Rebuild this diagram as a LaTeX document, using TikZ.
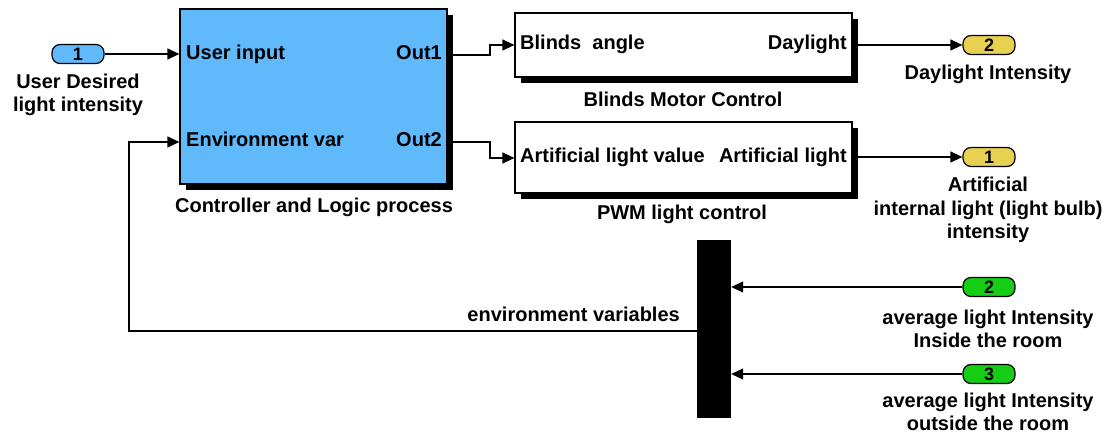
\documentclass[tikz,border=0pt]{standalone}
\usepackage{fontspec}
\setmainfont{Liberation Sans}
\usetikzlibrary{arrows.meta}
\definecolor{blk}{RGB}{95,185,250}
\definecolor{ylw}{RGB}{232,208,80}
\definecolor{grn}{RGB}{20,205,20}
\tikzset{
  txt/.style={font=\fontsize{20}{23}\selectfont\bfseries, inner sep=0pt, text height=14pt, text depth=4pt},
  mtxt/.style={font=\fontsize{20}{23.5}\selectfont\bfseries, inner sep=0pt, align=center},
  blockbox/.style={draw=black, line width=1.2pt, minimum width=#1, inner sep=0pt},
  port/.style={draw=black, line width=1.2pt, rounded corners=8pt, minimum width=52pt, minimum height=19pt, inner sep=0pt, font=\fontsize{18}{20}\selectfont\bfseries},
  sig/.style={line width=1.2pt, -{Triangle[length=12pt,width=11pt]}},
  wire/.style={line width=1.2pt}
}
\begin{document}
\begin{tikzpicture}[x=1pt,y=-1pt]
\useasboundingbox (0,0) rectangle (1112,435);
% shadows
\fill[black] (186,15) rectangle (453,190);
\fill[black] (521,19) rectangle (858,83);
\fill[black] (521,128) rectangle (858,199);
% blocks
\node[blockbox=267pt, minimum height=175pt, fill=blk] (ctrl) at (313.5,96.5) {};
\node[blockbox=337pt, minimum height=64pt, fill=white] (blinds) at (683.5,45) {};
\node[blockbox=337pt, minimum height=71pt, fill=white] (pwm) at (683.5,157.5) {};
\node[fill=black, minimum width=34pt, minimum height=178pt, inner sep=0pt] (mux) at (714,329) {};
% ports
\node[port, fill=blk] (in1) at (78,54) {1};
\node[port, fill=ylw] (outd) at (989,45) {2};
\node[port, fill=ylw] (outa) at (989,157) {1};
\node[port, fill=grn] (in2) at (989,287) {2};
\node[port, fill=grn] (in3) at (989,374) {3};
% block inner labels
\node[txt, anchor=west] (l1) at (186,55) {User input};
\node[txt, anchor=east] (l2) at (442,55) {Out1};
\node[txt, anchor=west] (l3) at (186,142) {Environment var};
\node[txt, anchor=east] (l4) at (442,142) {Out2};
\node[txt, anchor=west] (l5) at (520,45) {Blinds\ \ angle};
\node[txt, anchor=east] (l6) at (847,45) {Daylight};
\node[txt, anchor=west] (l7) at (520,158) {Artificial light value};
\node[txt, anchor=east] (l8) at (847,158) {Artificial light};
% captions
\node[txt] (c1) at (314,208) {Controller and Logic process};
\node[txt] (c2) at (683,102) {Blinds Motor Control};
\node[txt] (c3) at (682,215) {PWM light control};
\node[mtxt] (c4) at (78,95) {User Desired\\light intensity};
\node[txt] (c5) at (988,75) {Daylight Intensity};
\node[mtxt] (c6) at (988,210) {Artificial\\internal light (light bulb)\\intensity};
\node[mtxt] (c7) at (988,329) {average light Intensity\\Inside the room};
\node[mtxt] (c8) at (988,412) {average light Intensity\\outside the room};
\node[txt, anchor=east] (c9) at (680,317) {environment variables};
% connectors
\draw[sig] (in1.east) -- (ctrl.west |- in1.east);
\draw[sig] (ctrl.east |- l2) -- (490,55) -- (490,45) -- (blinds.west);
\draw[sig] (ctrl.east |- l4) -- (490,142) |- (pwm.west |- l8);
\draw[sig] (blinds.east) -- (outd.west);
\draw[sig] (pwm.east |- outa.west) -- (outa.west);
\draw[sig] (in2.west) -- (mux.east |- in2.west);
\draw[sig] (in3.west) -- (mux.east |- in3.west);
\draw[sig] (mux.west |- 0,331) -- (129,331) |- (ctrl.west |- l3);
\end{tikzpicture}
\end{document}
